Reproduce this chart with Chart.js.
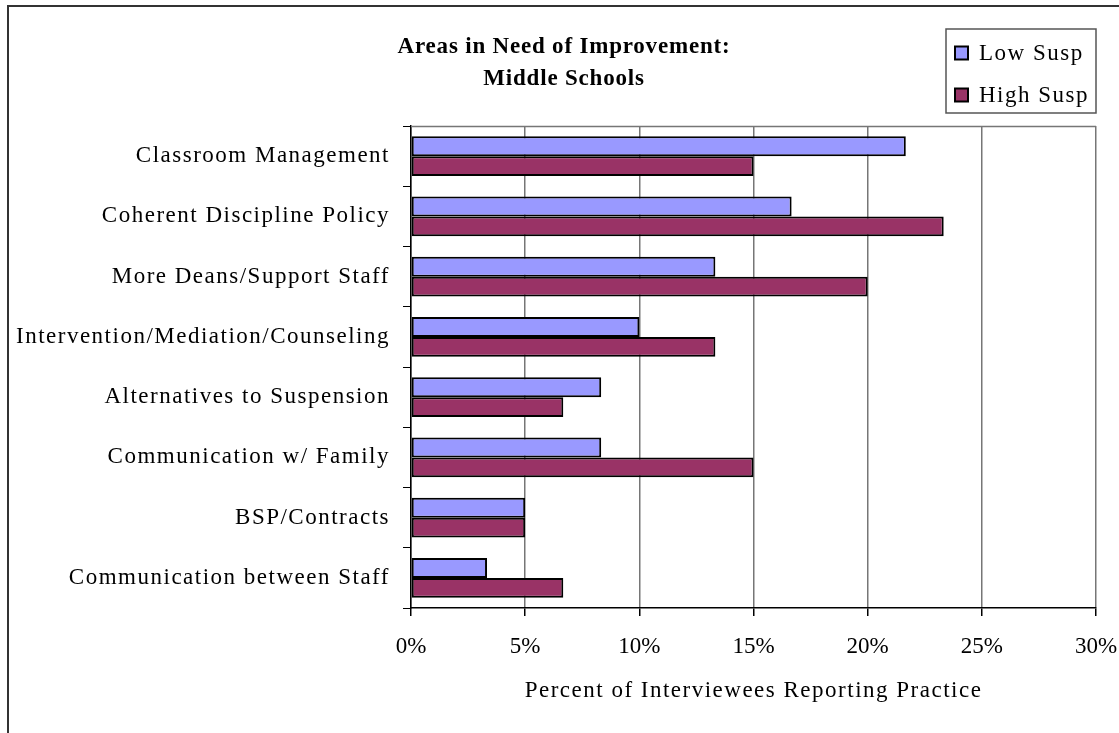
<!DOCTYPE html>
<html>
<head>
<meta charset="utf-8">
<title>Areas in Need of Improvement: Middle Schools</title>
<script src="https://cdn.jsdelivr.net/npm/chart.js@4/dist/chart.umd.min.js"></script>
<style>
  html, body { margin: 0; padding: 0; background: #fff; }
  canvas { display: block; }
</style>
</head>
<body>
<canvas id="chart" width="1119" height="733"></canvas>
<script>
// ---- data ----
const categories = [
  'Classroom Management',
  'Coherent Discipline Policy',
  'More Deans/Support Staff',
  'Intervention/Mediation/Counseling',
  'Alternatives to Suspension',
  'Communication w/ Family',
  'BSP/Contracts',
  'Communication between Staff'
];
const lowSusp  = [21.67, 16.67, 13.33, 10.00, 8.33, 8.33, 5.00, 3.33];
const highSusp = [15.00, 23.33, 20.00, 13.33, 6.67, 15.00, 5.00, 6.67];
const seriesNames = ['Low Susp', 'High Susp'];
const tickValues = [0, 5, 10, 15, 20, 25, 30];
const titleLines = ['Areas in Need of Improvement:', 'Middle Schools'];
const axisTitle = 'Percent of Interviewees Reporting Practice';

// ---- styling ----
const SERIF = "'Liberation Serif', 'Times New Roman', Times, serif";
const LOW_COLOR = '#9999FF';
const HIGH_COLOR = '#993366';
const GRID_COLOR = '#767676';
const SPACING = '1.5px';        // labels, axis title, legend
const TITLE_SPACING = '0.8px';  // chart title
const TICK_SPACING = '0px';     // percentage ticks

// run a draw function with a given letter spacing, then restore the default
function withSpacing(ctx, spacing, fn) {
  const prev = ctx.letterSpacing;
  ctx.letterSpacing = spacing;
  fn();
  ctx.letterSpacing = prev;
}

// letter spacing per text element, and title centred over the frame
const textStyle = {
  id: 'textStyle',
  beforeUpdate(chart) { chart.ctx.letterSpacing = SPACING; },
  beforeLayout(chart) { chart.ctx.letterSpacing = SPACING; },
  afterLayout(chart) {
    const title = chart.titleBlock;
    if (title) {
      title.left = 32;
      if (!title._spaced) {
        const draw = title.draw.bind(title);
        title.draw = (area) => withSpacing(chart.ctx, TITLE_SPACING, () => draw(area));
        title._spaced = true;
      }
    }
    const x = chart.scales.x;
    if (x && !x._spaced) {
      const drawLabels = x.drawLabels.bind(x);
      x.drawLabels = (area) => withSpacing(chart.ctx, TICK_SPACING, () => drawLabels(area));
      x._spaced = true;
    }
  },
  beforeDraw(chart) { chart.ctx.letterSpacing = SPACING; }
};

// outer frame and the top edge of the plot area
const frame = {
  id: 'frame',
  beforeDraw(chart) {
    const ctx = chart.ctx;
    ctx.save();
    ctx.fillStyle = '#fff';
    ctx.fillRect(0, 0, chart.width, chart.height);
    ctx.strokeStyle = '#333';
    ctx.lineWidth = 2;
    ctx.strokeRect(8, 6, chart.width + 20, chart.height + 20);
    ctx.restore();
  },
  beforeDatasetsDraw(chart) {
    const {ctx, chartArea: a} = chart;
    ctx.save();
    ctx.strokeStyle = GRID_COLOR;
    ctx.lineWidth = 1.5;
    ctx.beginPath();
    ctx.moveTo(a.left, a.top + 0.5);
    ctx.lineTo(a.right, a.top + 0.5);
    ctx.stroke();
    ctx.restore();
  }
};

// boxed legend in the upper right corner
const boxLegend = {
  id: 'boxLegend',
  afterDraw(chart, args, o) {
    const ctx = chart.ctx;
    ctx.save();
    ctx.letterSpacing = SPACING;
    ctx.strokeStyle = '#555';
    ctx.lineWidth = 1.5;
    ctx.strokeRect(o.x, o.y, o.w, o.h);
    ctx.font = '23px ' + SERIF;
    ctx.textBaseline = 'middle';
    ctx.textAlign = 'left';
    chart.data.datasets.forEach((ds, i) => {
      const cy = o.y + o.first + i * o.step;
      const s = o.marker;
      ctx.fillStyle = ds.backgroundColor;
      ctx.fillRect(o.x + o.markerX, cy - s / 2, s, s);
      ctx.strokeStyle = '#000';
      ctx.lineWidth = 2;
      ctx.strokeRect(o.x + o.markerX, cy - s / 2, s, s);
      ctx.fillStyle = '#000';
      ctx.fillText(ds.label, o.x + o.textX, cy + 1);
    });
    ctx.restore();
  }
};

new Chart(document.getElementById('chart'), {
  type: 'bar',
  data: {
    labels: categories,
    datasets: [
      {
        label: seriesNames[0],
        data: lowSusp,
        backgroundColor: LOW_COLOR,
        borderColor: '#000',
        borderWidth: 2,
        borderSkipped: false
      },
      {
        label: seriesNames[1],
        data: highSusp,
        backgroundColor: HIGH_COLOR,
        borderColor: '#000',
        borderWidth: 2,
        borderSkipped: false
      }
    ]
  },
  options: {
    indexAxis: 'y',
    responsive: false,
    animation: false,
    devicePixelRatio: 1,
    categoryPercentage: 0.66,
    barPercentage: 1.0,
    layout: { padding: { left: 0, right: 23, top: 0, bottom: 0 } },
    plugins: {
      legend: { display: false },
      tooltip: { enabled: false },
      title: {
        display: true,
        text: titleLines,
        color: '#000',
        font: { family: SERIF, size: 23, weight: 'bold', lineHeight: 1.4 },
        padding: { top: 31, bottom: 30.6 }
      },
      boxLegend: {
        x: 946, y: 29, w: 150, h: 84,
        first: 24, step: 42,
        marker: 13, markerX: 9, textX: 33
      }
    },
    scales: {
      x: {
        min: 0,
        max: 30,
        afterBuildTicks(scale) {
          scale.ticks = tickValues.map(v => ({ value: v }));
        },
        afterFit(scale) {
          scale.height = 125;
          scale.paddingLeft = 0;
          scale.paddingRight = 0;
        },
        ticks: {
          color: '#000',
          padding: 17,
          maxRotation: 0,
          font: { family: SERIF, size: 23 },
          callback: v => v + '%'
        },
        grid: {
          color: GRID_COLOR,
          lineWidth: 1.5,
          tickColor: '#000',
          tickLength: 8,
          drawOnChartArea: true
        },
        border: { display: true, color: '#000', width: 1.5 },
        title: {
          display: true,
          text: axisTitle,
          color: '#000',
          font: { family: SERIF, size: 23 },
          padding: { top: 0, bottom: 28 }
        }
      },
      y: {
        afterFit(scale) {
          scale.width = 411;
          scale.paddingTop = 0;
          scale.paddingBottom = 0;
        },
        ticks: {
          color: '#000',
          padding: 13,
          autoSkip: false,
          font: { family: SERIF, size: 23 }
        },
        grid: {
          offset: true,
          drawOnChartArea: false,
          tickColor: '#000',
          tickLength: 8
        },
        border: { display: true, color: '#000', width: 1.5 }
      }
    }
  },
  plugins: [textStyle, frame, boxLegend]
});
</script>
</body>
</html>
